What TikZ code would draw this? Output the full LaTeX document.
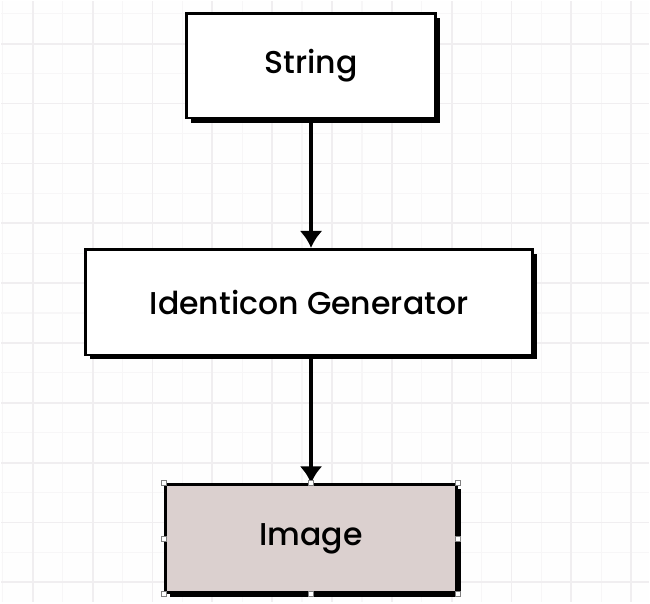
\documentclass[tikz,border=0pt]{standalone}
\usepackage{fontspec}
\setmainfont{Poppins Medium}
\usetikzlibrary{shadows,arrows.meta}

\definecolor{imgfill}{RGB}{219,208,207}
\definecolor{gridmajor}{RGB}{240,238,240}
\definecolor{gridminor}{RGB}{247,246,247}

\tikzset{
    box/.style={draw,line width=1.5pt,fill=white,align=center,
        font=\fontsize{18}{20}\selectfont,
        drop shadow={shadow xshift=0.09cm,shadow yshift=-0.09cm,
            fill=black,opacity=1}},
    flow/.style={line width=2.8pt,-{Latex[length=0.34cm,width=0.46cm]}},
    handle/.style={draw=gray,fill=white,line width=0.4pt,
        minimum size=0.1cm,inner sep=0pt}
}

\begin{document}
\begin{tikzpicture}[x=0.02cm,y=-0.02cm]
    % Background and grid
    \fill[white!99!gray] (0,0) rectangle (650,603);
    \foreach \gx in {2,62,...,650} \draw[gridminor,line width=0.7pt] (\gx,0) -- (\gx,603);
    \foreach \gy in {13,73,...,603} \draw[gridminor,line width=0.7pt] (0,\gy) -- (650,\gy);
    \foreach \gx in {32,92,...,650} \draw[gridmajor,line width=1pt] (\gx,0) -- (\gx,603);
    \foreach \gy in {43,103,...,603} \draw[gridmajor,line width=1pt] (0,\gy) -- (650,\gy);

    % Boxes
    \node[box,minimum width=5cm,minimum height=2.1cm] (str) at (311,65) {String};
    \node[box,minimum width=8.96cm,minimum height=2.12cm] (gen) at (309,302) {Identicon Generator};
    \node[box,fill=imgfill,minimum width=5.84cm,minimum height=2.16cm] (img) at (311,539) {Image};

    % Arrows
    \draw[flow] (str.south) -- (gen.north -| str.south);
    \draw[flow] (gen.south -| img.north) -- (img.north);

    % Selection handles
    \foreach \a [count=\i] in {north west,north,north east,east,south east,south,south west,west}
        \node[handle] (h\i) at (img.\a) {};
\end{tikzpicture}
\end{document}
